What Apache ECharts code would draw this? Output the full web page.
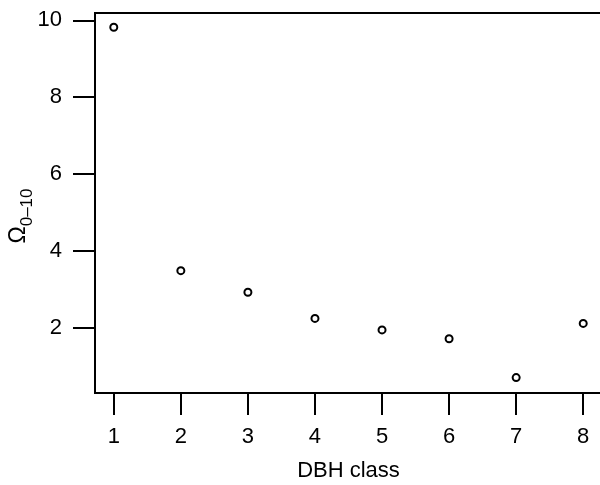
<!DOCTYPE html>
<html>
<head>
<meta charset="utf-8">
<script src="https://cdn.jsdelivr.net/npm/echarts@6/dist/echarts.min.js"></script>
<style>
html,body{margin:0;padding:0;background:#fff;}
#c{width:600px;height:485px;}
</style>
</head>
<body>
<div id="c"></div>
<script>
var dbhClass = [1, 2, 3, 4, 5, 6, 7, 8];
var omegaValues = [9.82, 3.49, 2.93, 2.25, 1.95, 1.72, 0.71, 2.12];
var xTicks = [1, 2, 3, 4, 5, 6, 7, 8];
var yTicks = [2, 4, 6, 8, 10];

var FONT = '"Liberation Sans", Arial, Helvetica, sans-serif';
var chart = echarts.init(document.getElementById('c'), null, {renderer: 'canvas'});
var pts = dbhClass.map(function (x, i) { return [x, omegaValues[i]]; });

chart.setOption({
  animation: false,
  backgroundColor: '#fff',
  grid: {
    left: 95, top: 13, right: -2, bottom: 92,
    outerBoundsMode: 'none', containLabel: false,
    show: true, borderColor: '#000', borderWidth: 2, backgroundColor: 'transparent'
  },
  xAxis: {
    type: 'value', min: 0.72, max: 8.28,
    name: 'DBH class', nameLocation: 'middle', nameGap: 67, nameMoveOverlap: false,
    nameTextStyle: {fontFamily: FONT, fontSize: 22, color: '#000'},
    axisLine: {show: false},
    splitLine: {show: false},
    axisTick: {show: true, inside: false, length: 22, customValues: xTicks, lineStyle: {color: '#000', width: 2}},
    axisLabel: {show: true, customValues: xTicks, margin: 33, fontFamily: FONT, fontSize: 22, color: '#000'}
  },
  yAxis: {
    type: 'value', min: 0.31, max: 10.19,
    name: '{o|Ω}{s|0–10}', nameLocation: 'middle', nameGap: 59, nameRotate: 90, nameMoveOverlap: false,
    nameTextStyle: {
      fontFamily: FONT, color: '#000', padding: [0, 26, 0, 0],
      rich: {
        o: {fontFamily: FONT, fontSize: 23, color: '#000', lineHeight: 34, verticalAlign: 'middle'},
        s: {fontFamily: FONT, fontSize: 17, color: '#000', lineHeight: 17, verticalAlign: 'bottom'}
      }
    },
    axisLine: {show: false},
    splitLine: {show: false},
    axisTick: {show: true, inside: false, length: 22, customValues: yTicks, lineStyle: {color: '#000', width: 2}},
    axisLabel: {show: true, customValues: yTicks, margin: 33, fontFamily: FONT, fontSize: 22, color: '#000'}
  },
  series: [{
    type: 'scatter',
    data: pts,
    symbol: 'circle',
    symbolSize: 7,
    itemStyle: {color: '#fff', borderColor: '#000', borderWidth: 2, opacity: 1},
    emphasis: {disabled: true}
  }]
});
</script>
</body>
</html>
